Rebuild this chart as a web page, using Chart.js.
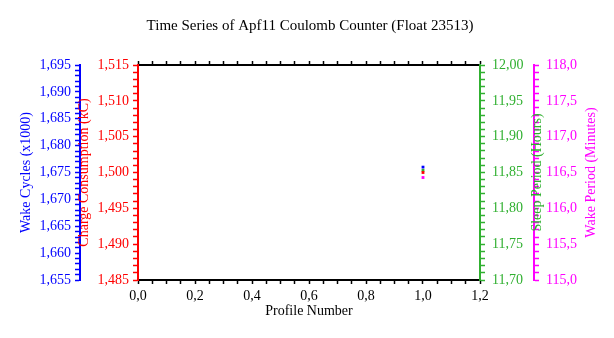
<!DOCTYPE html>
<html>
<head>
<meta charset="utf-8">
<script src="https://cdn.jsdelivr.net/npm/chart.js@4"></script>
<style>
  html, body { margin: 0; padding: 0; background: #fff; }
  #wrap { width: 614px; height: 338px; }
</style>
</head>
<body>
<div id="wrap"><canvas id="coulombChart" width="614" height="338"></canvas></div>
<script>
// values (only one profile so far)
const profiles    = [1];
const wakeCycles  = [1.676];    // x1000
const chargeKC    = [1.500];
const sleepHours  = [11.853];
const wakeMinutes = [116.43];

// axis ranges: [min, max, major step, minor step, decimals]
const xRange     = [0, 1.2, 0.2, 0.05, 1];
const wakeRange  = [1.655, 1.695, 0.005, 0.001, 3];
const chargeRange = [1.485, 1.515, 0.005, 0.001, 3];
const sleepRange = [11.70, 12.00, 0.05, 0.01, 2];
const wakeMinRange = [115.0, 118.0, 0.5, 0.1, 1];

const BLUE = '#0000ff', RED = '#ff0000', GREEN = '#30b030', MAGENTA = '#ff00ff';

Chart.defaults.font.family = '"Liberation Serif", "Times New Roman", serif';
Chart.defaults.font.size = 14;

// labels only on major ticks, comma decimals like the original
function tickFmt(major, digits) {
  return v => {
    const k = v / major;
    return Math.abs(k - Math.round(k)) < 1e-6 ? v.toFixed(digits).replace('.', ',') : '';
  };
}

function yAxis(range, color, pos, weight, width, pad) {
  return {
    type: 'linear', position: pos, weight: weight,
    min: range[0], max: range[1],
    border: { color: color, width: 2 },
    grid: { drawOnChartArea: false, color: color, tickLength: 5, tickWidth: 1.5 },
    ticks: { stepSize: range[3], autoSkip: false, color: color, padding: pad,
             callback: tickFmt(range[2], range[4]) },
    afterFit: s => { s.width = width; }
  };
}

function xAxis(pos, showLabels, height) {
  return {
    type: 'linear', position: pos,
    min: xRange[0], max: xRange[1],
    border: { color: '#000', width: 2 },
    grid: { drawOnChartArea: false, color: '#000', tickLength: 4, tickWidth: 1.5 },
    ticks: { display: showLabels, stepSize: xRange[3], autoSkip: false, color: '#000', padding: 4,
             maxRotation: 0, callback: tickFmt(xRange[2], xRange[4]) },
    title: { display: showLabels, text: 'Profile Number', color: '#000', padding: { top: 0, bottom: 0 } },
    afterFit: s => { s.height = height; }
  };
}

const axisTitles = {
  yWake:   { text: 'Wake Cycles (x1000)', color: BLUE },
  yCharge: { text: 'Charge Consumption (kC)', color: RED },
  ySleep:  { text: 'Sleep Period (Hours)', color: GREEN },
  yWakeMin: { text: 'Wake Period (Minutes)', color: MAGENTA }
};

// y titles all read bottom-to-top and sit on top of the neighbouring axis
const sideTitles = {
  id: 'sideTitles',
  afterDraw(chart) {
    const ctx = chart.ctx;
    const midY = (chart.chartArea.top + chart.chartArea.bottom) / 2;
    ctx.save();
    ctx.font = '14px "Liberation Serif"';
    ctx.textAlign = 'center';
    ctx.textBaseline = 'middle';
    for (const id in axisTitles) {
      const s = chart.scales[id];
      const x = s.options.position === 'left' ? s.right - 54 : s.left + 57;
      ctx.save();
      ctx.translate(x, midY);
      ctx.rotate(-Math.PI / 2);
      ctx.fillStyle = axisTitles[id].color;
      ctx.fillText(axisTitles[id].text, 0, 0);
      ctx.restore();
    }
    ctx.restore();
  }
};

function series(vals, axis, color) {
  return {
    data: profiles.map((p, i) => ({ x: p, y: vals[i] })),
    yAxisID: axis, xAxisID: 'x',
    pointStyle: 'rect', pointRadius: 2, borderWidth: 0,
    backgroundColor: color, borderColor: color
  };
}

new Chart(document.getElementById('coulombChart'), {
  type: 'scatter',
  data: {
    datasets: [
      series(wakeCycles, 'yWake', BLUE),
      series(chargeKC, 'yCharge', RED),
      series(sleepHours, 'ySleep', GREEN),
      series(wakeMinutes, 'yWakeMin', MAGENTA)
    ]
  },
  options: {
    responsive: false,
    animation: false,
    layout: { padding: { left: 20, right: 14, top: 0, bottom: 18 } },
    plugins: {
      legend: { display: false },
      tooltip: { enabled: false },
      title: { display: true, text: 'Time Series of Apf11 Coulomb Counter (Float 23513)',
               color: '#000', font: { size: 15, weight: 'normal' }, padding: { top: 17, bottom: 0 } }
    },
    scales: {
      x: xAxis('bottom', true, 40),
      xTop: xAxis('top', false, 30),
      yWake: yAxis(wakeRange, BLUE, 'left', 2, 60, 4),
      yCharge: yAxis(chargeRange, RED, 'left', 1, 58, 4),
      ySleep: yAxis(sleepRange, GREEN, 'right', 1, 54, 7),
      yWakeMin: yAxis(wakeMinRange, MAGENTA, 'right', 2, 66, 7)
    }
  },
  plugins: [sideTitles]
});
</script>
</body>
</html>
